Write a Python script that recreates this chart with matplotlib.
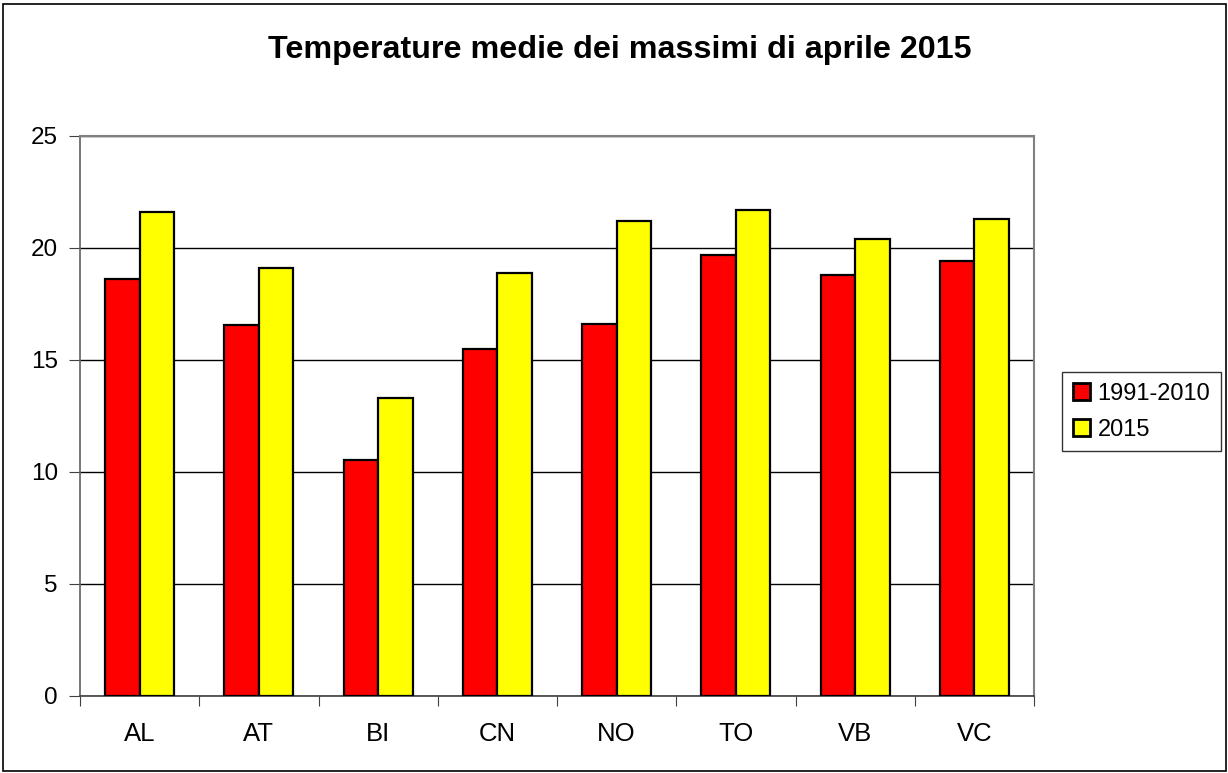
import matplotlib
matplotlib.use("Agg")
import matplotlib.pyplot as plt
import numpy as np
from matplotlib.patches import Rectangle

categories = ["AL", "AT", "BI", "CN", "NO", "TO", "VB", "VC"]
series_names = ["1991-2010", "2015"]
values_1991_2010 = [18.6, 16.55, 10.55, 15.5, 16.6, 19.7, 18.8, 19.4]
values_2015 = [21.6, 19.1, 13.3, 18.9, 21.2, 21.7, 20.4, 21.3]
colors = ["#ff0000", "#ffff00"]
title = "Temperature medie dei massimi di aprile 2015"

plt.rcParams['font.family'] = ['Liberation Sans', 'DejaVu Sans']

W, H = 1228, 773
fig = plt.figure(figsize=(W / 100, H / 100), dpi=100)
fig.patch.set_facecolor("white")

# outer chart frame
fig.add_artist(Rectangle((3 / W, 2 / H), (W - 5) / W, (H - 6) / H, transform=fig.transFigure,
                         fill=False, edgecolor="black", linewidth=1.2))

left, right, top, bottom = 80, 1034, 136, 696
ax = fig.add_axes([left / W, 1 - bottom / H, (right - left) / W, (bottom - top) / H])

x = np.arange(len(categories))
bw = 0.29
ax.bar(x - bw / 2, values_1991_2010, bw, color=colors[0], edgecolor="black", linewidth=1.6,
       label=series_names[0], zorder=3)
ax.bar(x + bw / 2, values_2015, bw, color=colors[1], edgecolor="black", linewidth=1.6,
       label=series_names[1], zorder=3)

ax.set_xlim(-0.5, len(categories) - 0.5)
ax.set_ylim(0, 25)
ax.set_yticks([0, 5, 10, 15, 20, 25])
ax.yaxis.grid(True, color="black", linewidth=1.0, zorder=0)
ax.set_axisbelow(True)

ax.set_xticks(np.arange(len(categories) + 1) - 0.5)
ax.set_xticklabels([])
ax.set_xticks(x, minor=True)
ax.set_xticklabels(categories, minor=True)
ax.tick_params(axis="x", which="major", direction="out", length=7, color="#404040")
ax.tick_params(axis="x", which="minor", length=0, pad=19, labelsize=18.5)
ax.tick_params(axis="y", direction="out", length=8, color="#404040", labelsize=17.5, pad=8)

for s in ["top", "right"]:
    ax.spines[s].set_color("#808080")
    ax.spines[s].set_linewidth(1.5)
ax.spines["left"].set_color("#606060")
ax.spines["bottom"].set_color("#404040")
ax.spines["left"].set_linewidth(1.2)
ax.spines["bottom"].set_linewidth(1.2)

fig.text(620 / W, 1 - 50 / H, title, ha="center", va="center", fontsize=23.2, fontweight="bold")

leg = fig.legend(loc="upper left", bbox_to_anchor=(1062 / W, 1 - 372 / H), fontsize=17,
                 frameon=True, fancybox=False, edgecolor="black", handlelength=0.75,
                 handleheight=0.75, handletextpad=0.3, borderpad=0.45, labelspacing=0.6,
                 borderaxespad=0)
leg.get_frame().set_linewidth(1.0)
for h in leg.legend_handles:
    h.set_linewidth(2.0)

fig.savefig("out.png", dpi=100, facecolor="white")
